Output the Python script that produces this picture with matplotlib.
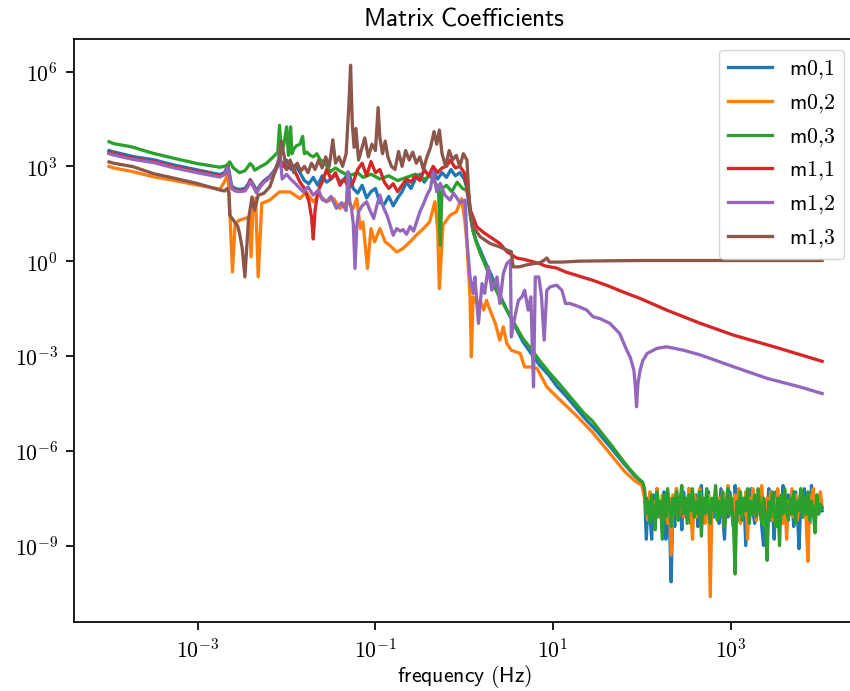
import numpy as np
import matplotlib
matplotlib.use('Agg')
import matplotlib.pyplot as plt
from matplotlib.ticker import FixedLocator, FuncFormatter, NullLocator

# Values as log10(frequency) / log10(coefficient).

# m0,1
m01_lf = [-4.0, -3.95, -3.73, -3.50, -3.28, -3.01, -2.75, -2.70, -2.66, -2.62, -2.58, -2.53, -2.47, -2.43, -2.41, -2.37, -2.34, -2.30, -2.26, -2.19, -2.13, -2.10,
          -2.08, -2.05, -2.00, -1.95, -1.90, -1.85, -1.80, -1.75, -1.70, -1.65, -1.60, -1.55, -1.50, -1.45, -1.40, -1.35, -1.30, -1.25, -1.20, -1.15,
          -1.10, -1.05, -1.00, -0.95, -0.90, -0.85, -0.80, -0.75, -0.70, -0.65, -0.60, -0.55, -0.50, -0.45, -0.40, -0.35, -0.30, -0.25, -0.20, -0.15,
          -0.10, -0.05, 0.00, 0.03,
          0.06, 0.10, 0.14, 0.18, 0.24, 0.29, 0.38, 0.48, 0.57, 0.66, 0.76, 0.85, 0.95, 1.04, 1.14, 1.23, 1.35, 1.50, 1.65, 1.81, 1.92, 2.00]
m01_ly = [3.50, 3.46, 3.31, 3.21, 3.05, 2.89, 2.74, 2.80, 3.04, 2.38, 2.30, 2.27, 2.30, 2.45, 2.58, 2.40, 2.22, 2.40, 2.53, 2.69, 2.90, 3.10,
          3.35, 3.00, 3.20, 2.90, 3.05, 2.80, 2.55, 2.45, 2.65, 2.40, 2.70, 2.50, 2.60, 2.75, 2.50, 2.60, 2.80, 2.30, 2.15, 2.40,
          2.00, 2.20, 2.30, 1.85, 1.80, 2.05, 1.75, 2.00, 2.20, 2.50, 2.30, 2.60, 2.75, 2.50, 2.70, 2.85, 2.60, 2.80, 2.65, 2.90,
          2.70, 2.80, 2.60, 2.30,
          1.60, 0.95, 0.60, 0.35, -0.05, -0.35, -0.95, -1.55, -2.05, -2.55, -2.95, -3.30, -3.60, -3.95, -4.25, -4.55, -4.95, -5.40, -5.90, -6.45, -6.80, -7.00]

# m0,2
m02_lf = [-4.0, -3.95, -3.73, -3.50, -3.26, -3.01, -2.75, -2.70, -2.66, -2.64, -2.61, -2.58, -2.53, -2.47, -2.42, -2.40, -2.38, -2.35, -2.32, -2.28, -2.19, -2.12,
          -2.08, -1.96, -1.85, -1.78, -1.70, -1.63, -1.55, -1.47, -1.40, -1.32, -1.25, -1.21, -1.17, -1.14, -1.09, -1.05, -1.01, -0.95, -0.89, -0.84,
          -0.76, -0.69, -0.61, -0.54, -0.46, -0.39, -0.33, -0.30, -0.28, -0.24, -0.16, -0.09, -0.03, 0.01, 0.03,
          0.065, 0.08, 0.10, 0.14, 0.18, 0.22, 0.25, 0.29, 0.35, 0.40, 0.44, 0.48, 0.53, 0.63, 0.68, 0.76, 0.82, 0.85, 0.93, 1.04, 1.10, 1.25,
          1.44, 1.60, 1.81, 1.92, 2.00]
m02_ly = [3.00, 2.95, 2.83, 2.67, 2.55, 2.41, 2.28, 2.51, 2.77, 1.61, -0.34, 1.19, 1.30, 1.35, 1.40, 0.14, 1.61, 2.00, -0.50, 1.83, 1.93, 2.10,
          2.19, 2.19, 1.98, 2.19, 1.88, 2.09, 1.88, 1.98, 1.67, 1.88, 1.67, 1.98, 1.03, 1.24, -0.23, 1.03, 0.61, 1.03, 0.61, 0.50,
          0.29, 0.40, 0.61, 0.82, 1.03, 1.24, 1.88, 1.03, -0.87, 1.14, 1.45, 1.56, 1.98, 1.19, 0.56,
          -1.13, -3.03, -1.13, -1.34, -1.24, -1.55, -1.24, -1.55, -1.97, -2.50, -2.08, -2.61, -2.82, -2.92, -3.35, -3.35, -3.40, -3.56, -3.98, -4.29, -4.45, -4.85,
          -5.40, -5.95, -6.67, -6.95, -7.09]

# m0,3
m03_lf = [-4.0, -3.95, -3.75, -3.50, -3.26, -3.01, -2.75, -2.68, -2.64, -2.60, -2.53, -2.47, -2.41, -2.38, -2.36, -2.30, -2.23, -2.15, -2.10,
          -2.08, -2.06, -2.03, -2.00, -1.98, -1.955, -1.94, -1.92, -1.89, -1.85, -1.82, -1.80, -1.77, -1.74, -1.70, -1.66, -1.62, -1.58, -1.51, -1.45,
          -1.40, -1.30, -1.20, -1.14, -1.05, -0.95, -0.85, -0.75, -0.65, -0.55, -0.45, -0.38, -0.32, -0.29, -0.27, -0.25, -0.20, -0.14, -0.08, -0.02, 0.02,
          0.05, 0.07, 0.10, 0.13, 0.18, 0.24, 0.29, 0.38, 0.48, 0.57, 0.66, 0.76, 0.85, 0.95, 1.06, 1.14, 1.23, 1.35, 1.44, 1.55, 1.65, 1.81, 1.90, 1.96, 2.01]
m03_ly = [3.78, 3.72, 3.62, 3.41, 3.25, 3.09, 2.97, 3.02, 3.14, 2.95, 2.80, 2.86, 3.09, 3.00, 2.88, 2.98, 3.09, 3.30, 3.45,
          4.30, 3.40, 3.70, 4.25, 3.35, 4.25, 3.40, 3.55, 3.65, 3.70, 3.95, 3.40, 3.45, 3.36, 3.30, 3.40, 3.20, 3.15, 2.83, 2.95,
          2.85, 2.70, 2.80, 2.65, 2.75, 2.60, 2.70, 2.55, 2.65, 2.75, 2.60, 2.70, 2.45, 2.30, 0.50, 2.30, 2.40, 2.20, 2.50, 2.30, 2.25,
          2.10, 1.40, 0.95, 0.65, 0.25, -0.15, -0.50, -1.05, -1.55, -2.00, -2.45, -2.80, -3.15, -3.50, -3.85, -4.12, -4.42, -4.82, -5.05, -5.45, -5.80, -6.40, -6.70, -6.88, -7.00]

# m1,1
m11_lf = [-4.0, -3.95, -3.73, -3.50, -3.28, -3.01, -2.75, -2.70, -2.66, -2.62, -2.58, -2.53, -2.47, -2.43, -2.41, -2.37, -2.34, -2.30, -2.26, -2.19, -2.13, -2.10,
          -2.08, -2.00, -1.95, -1.90, -1.85, -1.80, -1.75, -1.72, -1.70, -1.68, -1.65, -1.60, -1.55, -1.50, -1.45, -1.40, -1.35, -1.30, -1.25, -1.20,
          -1.15, -1.10, -1.05, -1.00, -0.95, -0.90, -0.85, -0.80, -0.75, -0.70, -0.65, -0.60, -0.55, -0.50, -0.45, -0.40, -0.35, -0.30, -0.25, -0.20,
          -0.16, -0.10, -0.05, 0.00, 0.03,
          0.07, 0.14, 0.22, 0.29, 0.40, 0.48, 0.59, 0.68, 0.85, 0.91, 1.04, 1.14, 1.23, 1.44, 1.60, 1.81, 1.98, 2.28, 2.66, 3.03, 3.50, 4.03]
m11_ly = [3.44, 3.40, 3.26, 3.15, 3.00, 2.84, 2.69, 2.75, 2.98, 2.33, 2.25, 2.22, 2.25, 2.42, 2.56, 2.36, 2.18, 2.36, 2.50, 2.65, 2.86, 3.05,
          3.20, 2.90, 3.10, 2.80, 2.50, 2.30, 1.90, 1.40, 0.70, 1.60, 2.20, 2.50, 2.90, 2.60, 2.80, 2.40, 2.60, 2.30, 2.50, 2.90,
          3.10, 2.70, 3.15, 2.80, 2.90, 2.50, 2.30, 2.45, 2.20, 2.40, 2.60, 2.50, 2.70, 2.55, 2.90, 2.70, 3.00, 2.80, 2.95, 3.00,
          3.20, 2.95, 3.00, 2.80, 2.40,
          1.61, 1.09, 0.90, 0.77, 0.56, 0.30, 0.10, 0.05, -0.08, -0.15, -0.22, -0.34, -0.42, -0.60, -0.76, -1.00, -1.18, -1.55, -1.97, -2.34, -2.72, -3.17]

# m1,2
m12_lf = [-4.0, -3.95, -3.73, -3.50, -3.28, -3.01, -2.75, -2.70, -2.66, -2.62, -2.58, -2.53, -2.47, -2.43, -2.41, -2.37, -2.34, -2.30, -2.26, -2.19, -2.13, -2.10,
          -2.08, -2.05, -2.00, -1.96, -1.90, -1.85, -1.81, -1.76, -1.70, -1.64, -1.60, -1.55, -1.50, -1.44, -1.38, -1.33, -1.31, -1.29, -1.27, -1.25,
          -1.23, -1.21, -1.19, -1.15, -1.10, -1.06, -1.02, -0.98, -0.95, -0.91, -0.87, -0.83, -0.80, -0.76, -0.72, -0.69, -0.65, -0.61, -0.57, -0.53,
          -0.50, -0.46, -0.42, -0.38, -0.35, -0.31, -0.27, -0.22, -0.16, -0.12, -0.09, -0.05, 0.01, 0.03,
          0.065, 0.10, 0.12, 0.16, 0.20, 0.23, 0.27, 0.31, 0.37, 0.40, 0.44, 0.48, 0.52, 0.53, 0.57, 0.61, 0.65, 0.68, 0.72, 0.75,
          0.78, 0.80, 0.84, 0.87, 0.90, 0.93, 0.97, 1.04, 1.10, 1.14, 1.19, 1.30, 1.38, 1.45, 1.53, 1.64, 1.75, 1.83, 1.87, 1.91,
          1.925, 1.94, 1.955, 1.98, 2.01, 2.06, 2.17, 2.28, 2.47, 2.66, 3.03, 3.41, 3.78, 4.03]
m12_ly = [3.40, 3.36, 3.22, 3.12, 2.96, 2.80, 2.66, 2.74, 2.96, 2.30, 2.22, 2.20, 2.22, 2.38, 2.52, 2.34, 2.16, 2.34, 2.48, 2.64, 2.85, 3.00,
          3.51, 2.60, 2.75, 2.61, 2.45, 2.30, 2.19, 2.35, 2.09, 2.25, 1.95, 1.88, 2.05, 1.67, 1.85, 1.60, 2.83, 1.90, 1.67, 1.20,
          -0.23, 1.10, 1.56, 1.75, 1.88, 1.60, 1.35, 1.80, 2.09, 1.70, 1.45, 1.10, 0.82, 1.03, 0.95, 1.00, 0.85, 1.10, 0.95, 1.30,
          1.56, 1.80, 2.09, 2.30, 2.83, 2.20, 2.46, 2.10, 1.93, 2.15, 2.03, 1.85, 1.93, 0.66,
          -0.50, -1.02, -0.50, -1.97, -0.71, -1.02, -0.18, -0.92, -0.50, -1.34, -0.39, -0.07, 0.03, -2.40, -1.76, -1.24, -1.13, -0.92, -1.55, -1.13,
          -3.98, -0.50, -0.50, -1.13, -2.50, -0.92, -0.81, -0.76, -0.92, -1.34, -1.34, -1.45, -1.55, -1.76, -1.82, -1.97, -2.29, -2.82, -3.05, -3.45,
          -3.90, -4.61, -3.90, -3.45, -3.15, -2.92, -2.76, -2.71, -2.82, -2.97, -3.34, -3.71, -3.98, -4.19]

# m1,3
m13_lf = [-4.0, -3.95, -3.73, -3.50, -3.26, -3.01, -2.75, -2.70, -2.67, -2.65, -2.64, -2.60, -2.55, -2.53, -2.50, -2.47, -2.43, -2.39, -2.36, -2.32, -2.26, -2.19, -2.11,
          -2.08, -2.06, -2.04, -2.00, -1.96, -1.92, -1.88, -1.84, -1.80, -1.76, -1.72, -1.68, -1.64, -1.60, -1.56, -1.52, -1.48, -1.45, -1.41, -1.37,
          -1.33, -1.30, -1.28, -1.26, -1.24, -1.22, -1.19, -1.16, -1.12, -1.08, -1.04, -1.00, -0.97, -0.95, -0.92, -0.89, -0.86, -0.82, -0.78, -0.74,
          -0.70, -0.66, -0.62, -0.58, -0.54, -0.50, -0.46, -0.42, -0.38, -0.34, -0.31, -0.28, -0.25, -0.21, -0.17, -0.13, -0.09, -0.05, -0.01, 0.03, 0.05,
          0.07, 0.10, 0.18, 0.29, 0.40, 0.48, 0.53, 0.55, 0.62, 0.70, 0.78, 0.85, 0.90, 0.93, 0.96, 1.10, 1.30, 1.60, 2.00, 3.00, 4.03]
m13_ly = [3.14, 3.10, 2.99, 2.77, 2.62, 2.46, 2.25, 2.22, 2.30, 2.15, 1.45, 1.30, 1.10, 0.88, 0.40, -0.50, 1.30, 2.03, 1.61, 2.09, 2.14, 2.35, 2.99,
          3.20, 3.80, 3.50, 2.90, 3.20, 2.80, 3.10, 2.85, 3.00, 2.80, 3.10, 2.90, 3.20, 2.95, 3.30, 3.00, 3.84, 3.10, 3.30, 3.00,
          3.40, 4.90, 6.20, 4.30, 3.60, 4.20, 3.20, 3.50, 3.90, 3.30, 3.70, 3.50, 4.86, 3.90, 3.40, 3.80, 3.30, 3.00, 2.90, 3.47,
          3.00, 3.50, 3.20, 3.45, 3.10, 3.30, 2.90, 3.30, 3.60, 4.10, 3.70, 4.15, 3.40, 3.00, 3.50, 3.20, 3.35, 3.00, 3.40, 3.20, 2.20,
          1.51, 1.09, 0.77, 0.56, 0.45, 0.35, 0.30, -0.18, -0.18, -0.12, -0.08, -0.05, 0.03, 0.10, -0.03, -0.03, 0.00, 0.01, 0.02, 0.02, 0.02]

# noise floor of m0,x above ~100 Hz, on the solver's regular frequency grid
noise_lf = np.linspace(2.03, 4.03, 101)
m01_noise = [-7.30, -8.80, -7.50, -8.00, -8.80, -7.40, -7.90, -7.20, -8.10, -7.60,
             -8.30, -7.30, -8.80, -7.70, -8.20, -10.15, -7.60, -8.40, -7.20, -8.00,
             -7.50, -8.50, -7.30, -7.90, -8.10, -7.20, -8.30, -7.60, -8.00, -7.40,
             -8.40, -7.80, -7.10, -8.20, -7.60, -8.00, -7.30, -8.50, -7.70, -8.10,
             -7.40, -7.90, -8.30, -7.20, -8.00, -8.80, -7.50, -8.10, -7.30, -7.90,
             -8.40, -7.10, -7.80, -8.20, -7.40, -8.00, -7.60, -9.00, -7.50, -8.20,
             -7.20, -7.90, -8.30, -7.50, -8.00, -7.30, -8.40, -9.00, -7.60, -7.90,
             -7.20, -8.20, -7.70, -8.80, -7.30, -8.00, -7.50, -8.30, -7.10, -7.90,
             -8.20, -7.40, -8.00, -7.60, -8.40, -7.30, -7.90, -9.10, -7.50, -8.10,
             -7.20, -8.00, -7.70, -8.30, -7.10, -7.80, -8.20, -7.40, -8.00, -7.60,
             -7.90]
m02_noise = [-7.50, -7.90, -8.20, -7.30, -8.00, -7.60, -8.40, -7.20, -7.80, -8.10,
             -7.40, -8.00, -7.60, -8.30, -7.50, -9.30, -7.40, -8.00, -7.20, -8.20,
             -7.70, -7.30, -8.10, -7.60, -8.00, -7.20, -7.80, -8.80, -7.40, -8.10,
             -7.60, -7.20, -8.00, -7.50, -8.30, -7.70, -7.40, -10.62, -7.60, -7.90,
             -7.20, -8.20, -7.50, -8.00, -7.30, -8.40, -7.60, -7.10, -8.00, -7.50,
             -8.20, -7.40, -7.90, -7.20, -8.30, -7.60, -8.00, -7.30, -8.80, -7.50,
             -8.00, -7.20, -7.80, -8.20, -7.40, -8.00, -7.10, -7.90, -8.40, -7.50,
             -8.00, -7.30, -8.20, -7.60, -7.90, -7.20, -8.10, -7.50, -8.30, -7.40,
             -8.80, -7.60, -8.00, -7.20, -8.10, -7.40, -8.20, -7.70, -7.30, -8.00,
             -7.50, -8.20, -9.50, -7.40, -7.90, -7.20, -8.10, -7.60, -7.90, -7.30,
             -7.80]
m03_noise = [-7.20, -8.00, -7.60, -8.30, -7.40, -7.90, -8.50, -7.30, -8.00, -7.60,
             -8.80, -7.40, -8.10, -7.20, -7.80, -8.40, -7.50, -8.00, -7.30, -8.20,
             -7.60, -7.10, -8.00, -7.50, -8.30, -7.40, -7.90, -7.20, -8.10, -7.60,
             -8.00, -7.30, -8.70, -7.50, -8.00, -7.20, -7.80, -8.30, -7.50, -7.90,
             -7.10, -8.20, -7.60, -8.00, -7.30, -8.40, -7.70, -7.20, -8.00, -7.50,
             -8.20, -9.90, -7.60, -8.00, -7.30, -8.20, -7.50, -7.90, -7.20, -8.30,
             -7.60, -8.00, -7.40, -8.10, -7.20, -7.90, -8.30, -7.50, -8.00, -9.47,
             -7.60, -8.10, -7.30, -7.90, -8.40, -7.50, -9.00, -7.40, -8.00, -7.20,
             -7.90, -8.20, -7.50, -8.00, -7.30, -8.30, -7.60, -7.90, -7.20, -8.10,
             -7.50, -8.00, -7.30, -8.20, -7.60, -7.90, -8.60, -7.40, -8.00, -7.70,
             -7.80]

labels = [r'$\mathsf{m0{,}1}$', r'$\mathsf{m0{,}2}$', r'$\mathsf{m0{,}3}$',
          r'$\mathsf{m1{,}1}$', r'$\mathsf{m1{,}2}$', r'$\mathsf{m1{,}3}$']

S = 1.57  # reference was rendered at ~157 dpi
plt.rcParams['mathtext.fontset'] = 'cm'
plt.rcParams['font.size'] = 10 * S
plt.rcParams['axes.linewidth'] = 0.8 * S
for a in ['xtick', 'ytick']:
    plt.rcParams[a + '.major.size'] = 3.5 * S
    plt.rcParams[a + '.major.width'] = 0.8 * S
    plt.rcParams[a + '.major.pad'] = 3.5 * S
    plt.rcParams[a + '.labelsize'] = 10 * S

fig = plt.figure(figsize=(8.5, 6.91), dpi=100)
ax = fig.add_axes([73.5 / 850, 69 / 691, (855 - 73.5) / 850, (622 - 39) / 691])

series = [
    (m01_lf + list(noise_lf), m01_ly + m01_noise),
    (m02_lf + list(noise_lf), m02_ly + m02_noise),
    (m03_lf + list(noise_lf), m03_ly + m03_noise),
    (m11_lf, m11_ly),
    (m12_lf, m12_ly),
    (m13_lf, m13_ly),
]
for i, (lf, ly) in enumerate(series):
    ax.plot(10 ** np.array(lf), 10 ** np.array(ly), color='C%d' % i, lw=1.5 * S, label=labels[i])

ax.set_xscale('log')
ax.set_yscale('log')
ax.set_xlim(10 ** -4.4, 10 ** 4.4)
ax.set_ylim(10 ** -11.42, 10 ** 7.03)
ax.xaxis.set_major_locator(FixedLocator([1e-3, 1e-1, 1e1, 1e3]))
ax.yaxis.set_major_locator(FixedLocator([1e-9, 1e-6, 1e-3, 1e0, 1e3, 1e6]))
ax.xaxis.set_minor_locator(NullLocator())
ax.yaxis.set_minor_locator(NullLocator())
fmt = FuncFormatter(lambda v, p: r'$10^{%d}$' % int(round(np.log10(v))))
ax.xaxis.set_major_formatter(fmt)
ax.yaxis.set_major_formatter(fmt)

ax.set_title(r'$\mathsf{Matrix\ Coefficients}$', fontsize=11.7 * S, pad=6 * S)
ax.set_xlabel(r'$\mathsf{frequency\ (Hz)}$', fontsize=10 * S, labelpad=1.5)
ax.legend(loc='upper right', fontsize=10 * S)

fig.savefig('out.png', dpi=100)
